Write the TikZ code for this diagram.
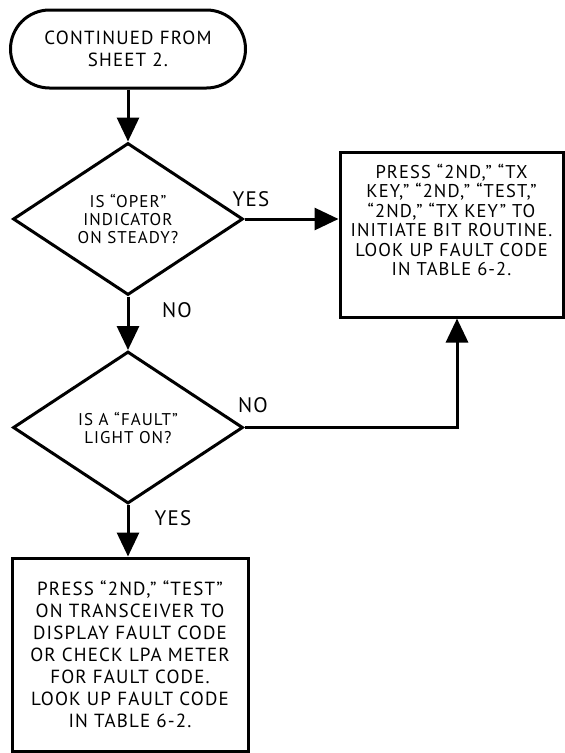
\documentclass[tikz,border=0pt]{standalone}
\usepackage{fontspec}
\setmainfont[LetterSpace=6]{PT Sans}
\usetikzlibrary{shapes.geometric,shapes.misc,arrows.meta}
\begin{document}
\begin{tikzpicture}[x=1pt,y=-1pt,line width=3pt,
  term/.style={rounded rectangle, draw, minimum width=235pt, minimum height=78pt, inner sep=0pt, align=center, font=\fontsize{19}{22}\selectfont},
  dia/.style={diamond, draw, aspect=1.53, minimum width=230pt, minimum height=152pt, inner sep=0pt, align=center, font=\fontsize{17}{18}\selectfont},
  frame/.style={rectangle, draw, inner sep=0pt, align=center},
  txt/.style={align=center, inner sep=0pt},
  arr/.style={-{Triangle[length=24pt,width=22pt]}, line width=3pt},
  lbl/.style={font=\fontsize{21}{22}\selectfont, inner sep=0pt}]
\useasboundingbox (0,0) rectangle (565,753);
\node[term] (t) at (128,49) {CONTINUED FROM\\SHEET 2.};
\node[dia] (d1) at (128,219) {IS “OPER”\\INDICATOR\\ON STEADY?};
\node[dia] (d2) at (128,427.5) {IS A “FAULT”\\LIGHT ON?};
\node[frame, minimum width=223pt, minimum height=165pt] (b1) at (451.5,234.5) {};
\node[txt, font=\fontsize{18.5}{19.4}\selectfont] (b1t) at (451.5,220) {PRESS “2ND,” “TX\\KEY,” “2ND,” “TEST,”\\“2ND,” “TX KEY” TO\\INITIATE BIT ROUTINE.\\LOOK UP FAULT CODE\\IN TABLE 6-2.};
\node[frame, minimum width=236pt, minimum height=193pt, font=\fontsize{19}{22}\selectfont] (b2) at (130,654.5) {PRESS “2ND,” “TEST”\\ON TRANSCEIVER TO\\DISPLAY FAULT CODE\\OR CHECK LPA METER\\FOR FAULT CODE.\\LOOK UP FAULT CODE\\IN TABLE 6-2.};
\coordinate (c1) at (457,427.5);
\draw[arr] (t.south) -- (d1.north);
\draw[arr] (d1.east) -- (b1.west |- d1.east);
\draw[arr] (d1.south) -- (d2.north);
\draw[arr] (d2.east) -- (c1) -- (c1 |- b1.south);
\draw[arr] (d2.south) -- (d2.south |- b2.north);
\node[lbl] (y1) at (251,199) {YES};
\node[lbl] (n1) at (177,310) {NO};
\node[lbl] (n2) at (253,405) {NO};
\node[lbl] (y2) at (173,518) {YES};
\end{tikzpicture}
\end{document}
